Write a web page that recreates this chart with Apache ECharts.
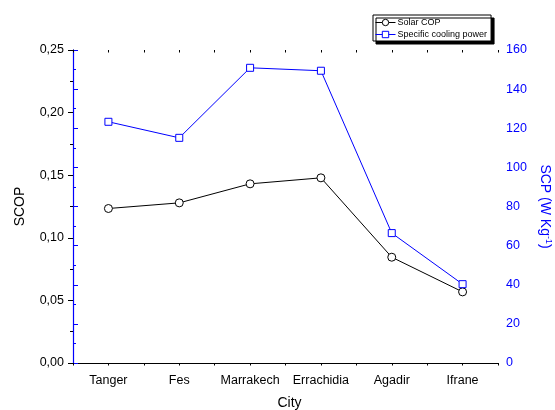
<!DOCTYPE html>
<html><head><meta charset="utf-8">
<script src="https://cdn.jsdelivr.net/npm/echarts@6/dist/echarts.min.js"></script>
<style>html,body{margin:0;padding:0;background:#fff}#c{width:555px;height:410px}</style>
</head><body><div id="c"></div>
<script>
const cities = ['Tanger','Fes','Marrakech','Errachidia','Agadir','Ifrane'];
const solarCOP = [0.1234, 0.1279, 0.1431, 0.1479, 0.0845, 0.0568];
const scp = [123.3, 115.1, 150.9, 149.4, 66.4, 40.3];
const leftTicks = {min: 0, max: 0.25, interval: 0.05};
const rightTicks = {min: 0, max: 160, interval: 20};

const FONT = 'Liberation Sans, Arial, sans-serif';
const chart = echarts.init(document.getElementById('c'));
const minorX = (pos, inside) => ({
  type: 'value', position: pos, min: 0, max: cities.length * 2, interval: 1,
  axisLine: {show: false}, axisLabel: {show: false}, splitLine: {show: false},
  axisTick: {show: true, inside: inside, length: 2.5, lineStyle: {color: '#000', width: 1}}
});
chart.setOption({
  animation: false,
  backgroundColor: '#fff',
  grid: {left: 73, right: 57, top: 50, bottom: 47, containLabel: false, outerBoundsMode: 'none'},
  legend: {
    orient: 'vertical', left: 373, top: 15, width: 120,
    padding: [3, 4, 2, 2], itemGap: 3, itemWidth: 20, itemHeight: 8,
    backgroundColor: '#fff', borderColor: '#000', borderWidth: 1,
    shadowColor: '#000', shadowBlur: 0, shadowOffsetX: 3, shadowOffsetY: 3,
    itemStyle: {borderWidth: 1},
    lineStyle: {width: 1},
    textStyle: {fontFamily: FONT, fontSize: 9, color: '#000', padding: [0, 0, 0, -3]},
    data: ['Solar COP', 'Specific cooling power']
  },
  xAxis: [
    {type: 'category', data: cities, position: 'bottom', boundaryGap: true,
     name: 'City', nameLocation: 'middle', nameGap: 33,
     nameTextStyle: {fontFamily: FONT, fontSize: 14, color: '#000', padding: [0, 0, 0, 8]},
     axisLine: {lineStyle: {color: '#000', width: 1}},
     axisTick: {alignWithLabel: true, length: 5, lineStyle: {color: '#000'}},
     axisLabel: {interval: 0, fontFamily: FONT, fontSize: 12.5, color: '#000', margin: 11},
     splitLine: {show: false}},
    {type: 'category', data: cities, position: 'top', boundaryGap: true,
     axisLine: {lineStyle: {color: '#000', width: 1}},
     axisTick: {alignWithLabel: true, interval: 0, inside: true, length: 5, lineStyle: {color: '#000'}},
     axisLabel: {show: false}, splitLine: {show: false}},
    minorX('bottom', false),
    minorX('top', true)
  ],
  yAxis: [
    {type: 'value', position: 'left', min: leftTicks.min, max: leftTicks.max, interval: leftTicks.interval,
     name: 'SCOP', nameLocation: 'middle', nameGap: 46,
     nameTextStyle: {fontFamily: FONT, fontSize: 14, color: '#000'},
     axisLine: {show: true, lineStyle: {color: '#000', width: 1}},
     axisTick: {show: true, length: 5, lineStyle: {color: '#000'}},
     minorTick: {show: true, splitNumber: 2, length: 3, lineStyle: {color: '#000'}},
     axisLabel: {fontFamily: FONT, fontSize: 12.5, color: '#000', margin: 9,
       formatter: v => v.toFixed(2).replace('.', ',')},
     splitLine: {show: false}},
    {type: 'value', position: 'right', min: rightTicks.min, max: rightTicks.max, interval: rightTicks.interval,
     name: 'SCP (W Kg{sup|-1})', nameLocation: 'middle', nameGap: 38, nameRotate: -90,
     nameTextStyle: {fontFamily: FONT, fontSize: 14, color: '#0000ff',
       rich: {sup: {fontFamily: FONT, fontSize: 9, color: '#0000ff', padding: [0, 0, 8, 0]}}},
     axisLine: {show: true, lineStyle: {color: '#0000ff', width: 1.2}},
     axisTick: {show: true, length: 5, lineStyle: {color: '#0000ff'}},
     minorTick: {show: true, splitNumber: 2, length: 3, lineStyle: {color: '#0000ff'}},
     axisLabel: {fontFamily: FONT, fontSize: 12.5, color: '#0000ff', margin: 8},
     splitLine: {show: false}}
  ],
  series: [
    {name: 'Solar COP', type: 'line', xAxisIndex: 0, yAxisIndex: 0, data: solarCOP,
     symbol: 'circle', symbolSize: 8,
     lineStyle: {color: '#000', width: 1}, itemStyle: {color: '#fff', borderColor: '#000', borderWidth: 1}},
    {name: 'Specific cooling power', type: 'line', xAxisIndex: 0, yAxisIndex: 1, data: scp,
     symbol: 'rect', symbolSize: 7,
     lineStyle: {color: '#0000ff', width: 1}, itemStyle: {color: '#fff', borderColor: '#0000ff', borderWidth: 1}}
  ]
});
</script></body></html>
